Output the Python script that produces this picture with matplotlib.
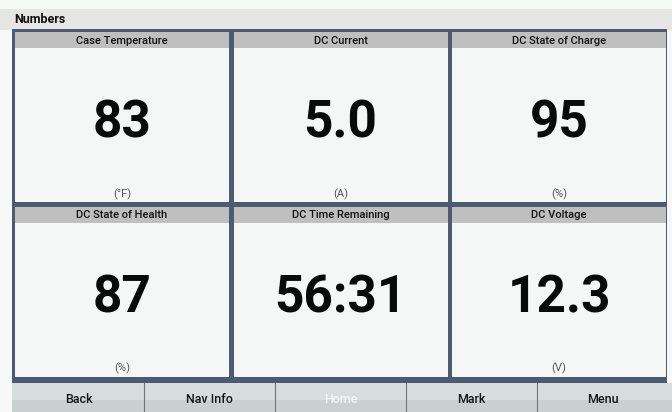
import matplotlib.pyplot as plt
from matplotlib.patches import Rectangle

titles = ["Case Temperature", "DC Current", "DC State of Charge",
          "DC State of Health", "DC Time Remaining", "DC Voltage"]
values = ["83", "5.0", "95", "87", "56:31", "12.3"]
units = ["(°F)", "(A)", "(%)", "(%)", "", "(V)"]
buttons = ["Back", "Nav Info", "Home", "Mark", "Menu"]
active_button = "Home"

W, H = 672, 412
fig = plt.figure(figsize=(W / 100, H / 100), dpi=100)
ax = fig.add_axes([0, 0, 1, 1])
ax.set_xlim(0, W)
ax.set_ylim(H, 0)
ax.axis("off")
fig.patch.set_facecolor("#f7f8f8")

# title bar
ax.add_patch(Rectangle((0, 9), W, 21, color="#e6e6e4", lw=0))
ax.text(14, 19.5, "Numbers", fontsize=9, fontweight="bold", family="Roboto",
        va="center", ha="left", color="#111111")

# dark frame behind the tiles
ax.add_patch(Rectangle((12, 29), 655, 354, color="#4a5b72", lw=0))

left, top = 15, 32
col_w, row_h, gap = 214, 170, 4.5
head_h = 16
for i, (t, v, u) in enumerate(zip(titles, values, units)):
    r, c = divmod(i, 3)
    x0 = left + c * (col_w + gap)
    y0 = top + r * (row_h + gap)
    ax.add_patch(Rectangle((x0, y0), col_w, row_h, color="#f5f7f7", lw=0))
    ax.add_patch(Rectangle((x0, y0), col_w, head_h, color="#bfbfbf", lw=0))
    cx = x0 + col_w / 2
    ax.text(cx, y0 + head_h / 2 + 0.5, t, fontsize=8, fontweight="medium",
            family="Roboto", ha="center", va="center", color="#111111")
    ax.text(cx, y0 + 106, v, fontsize=37, fontweight="bold", family="Roboto",
            ha="center", va="baseline", color="#0a0a0a")
    ax.text(cx, y0 + 162, u, fontsize=8, family="Roboto",
            ha="center", va="center", color="#555555")

# bottom button bar
ax.add_patch(Rectangle((12, 383), 660, 17, color="#d6dddd", lw=0))
ax.add_patch(Rectangle((12, 400), 660, 12, color="#c9d0d0", lw=0))
bw = 131
for j, b in enumerate(buttons):
    bx = 13 + j * bw
    if j > 0:
        ax.plot([bx, bx], [383, 412], color="#6f7676", lw=0.8)
    ax.text(bx + bw / 2, 399.5, b, fontsize=9, fontweight="medium",
            family="Roboto", ha="center", va="center",
            color="#f4f6f6" if b == active_button else "#151515")

fig.savefig("out.png", dpi=100)
